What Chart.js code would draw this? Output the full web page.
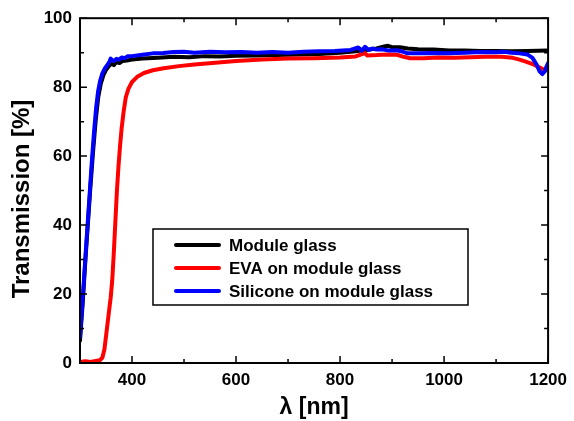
<!DOCTYPE html>
<html>
<head>
<meta charset="utf-8">
<script src="https://cdn.jsdelivr.net/npm/chart.js@4.4.0/dist/chart.umd.min.js"></script>
<style>
  html, body { margin: 0; padding: 0; background: #fff; }
  #wrap { width: 574px; height: 421px; }
</style>
</head>
<body>
<div id="wrap"><canvas id="chart" width="574" height="421"></canvas></div>
<script>
// transmission spectra, wavelength in nm, transmission in %
var seriesLabels = ['Module glass', 'EVA on module glass', 'Silicone on module glass'];
var seriesColors = ['#000000', '#ff0000', '#0000ff'];

var moduleGlassNm = [300, 305, 310, 315, 320, 325, 330, 335, 340, 345, 350, 355, 360, 365, 370, 376, 382, 390,
  400, 420, 450, 480, 510, 540, 570, 600, 640, 680, 720, 760, 800, 830, 850, 870, 885, 892, 900, 915, 930, 950,
  980, 1010, 1040, 1070, 1100, 1130, 1160, 1200];
var moduleGlassT = [6.5, 17, 29, 40, 51, 61, 70, 77, 81, 83.5, 85, 86, 86.8, 86.4, 87.3, 87.0, 87.6, 87.7,
  88.0, 88.3, 88.5, 88.8, 88.7, 89.0, 88.9, 89.1, 89.2, 89.3, 89.5, 89.6, 90.0, 90.4, 90.8, 91.2, 91.8, 92.0, 91.6, 91.6, 91.2, 91.0,
  90.9, 90.6, 90.6, 90.5, 90.5, 90.4, 90.5, 90.6];

var evaNm = [300, 310, 320, 330, 338, 343, 347, 351, 355, 359, 362, 365, 368, 371, 374, 377, 380, 384, 388, 393,
  400, 410, 423, 440, 461, 490, 520, 560, 600, 650, 700, 750, 800, 830, 848, 852, 870, 890, 910, 922, 935,
  960, 990, 1020, 1050, 1080, 1110, 1132, 1145, 1157, 1173, 1185, 1195, 1200];
var evaT = [0.3, 0.5, 0.3, 0.6, 0.8, 1.5, 4, 9, 14, 19, 24, 32, 41, 50, 57, 63, 68, 73, 77, 79.5,
  81.5, 83, 84.1, 84.9, 85.5, 86.1, 86.6, 87.1, 87.6, 88.0, 88.3, 88.4, 88.6, 88.9, 89.9, 89.2, 89.3, 89.5, 89.4, 88.8, 88.4,
  88.4, 88.6, 88.5, 88.7, 88.8, 88.8, 88.5, 88.0, 87.4, 86.5, 85.6, 84.8, 85.5];

var siliconeNm = [300, 302, 305, 308, 311, 315, 319, 323, 327, 331, 335, 339, 343, 348, 353, 357, 359, 362, 366,
  370, 375, 380, 386, 392, 400, 420, 440, 460, 480, 500, 520, 550, 580, 610, 640, 670, 700, 730, 760, 790, 820,
  835, 842, 848, 855, 862, 870, 880, 895, 910, 920, 930, 950, 980, 1010, 1040, 1060, 1080, 1100, 1115, 1130,
  1145, 1160, 1170, 1178, 1184, 1189, 1193, 1197, 1200];
var siliconeT = [7.5, 12, 18, 25, 32, 41, 50, 59, 67, 74, 79, 82, 84, 85.5, 86.5, 87.5, 88.3, 87.8, 87.6,
  88.2, 88.0, 88.6, 88.4, 89.0, 89.0, 89.4, 89.8, 89.9, 90.2, 90.3, 90.0, 90.3, 90.1, 90.2, 90.0, 90.2, 90.0, 90.3, 90.4, 90.5, 90.8,
  91.5, 90.6, 91.7, 90.8, 91.2, 90.9, 91.0, 90.6, 90.7, 90.3, 89.8, 89.8, 89.9, 89.8, 90.0, 90.1, 90.2, 90.1, 90.3, 90.0,
  89.8, 89.5, 88.5, 86.5, 84.5, 83.8, 84.5, 86, 87];

var xTicks = [400, 600, 800, 1000, 1200];
var yTicks = [0, 20, 40, 60, 80, 100];
var yTitle = 'Transmission [%]';

function toPoints(xs, ys) {
  return xs.map(function (x, i) { return { x: x, y: ys[i] }; });
}

var FONT = '"Liberation Sans", Arial, sans-serif';

// frame with inward major/minor ticks on all four sides
var framePlugin = {
  id: 'frame',
  afterDatasetsDraw: function (chart) {
    var ctx = chart.ctx, a = chart.chartArea;
    var xs = chart.scales.x, ys = chart.scales.y;
    ctx.save();
    ctx.strokeStyle = '#000';
    ctx.lineWidth = 2;
    ctx.strokeRect(a.left, a.top, a.right - a.left, a.bottom - a.top);
    ctx.lineWidth = 1.5;
    ctx.beginPath();
    xs.ticks.forEach(function (t) {
      var px = xs.getPixelForValue(t.value);
      var len = (t.value % 200 === 0) ? 7 : 4;
      ctx.moveTo(px, a.bottom); ctx.lineTo(px, a.bottom - len);
      ctx.moveTo(px, a.top); ctx.lineTo(px, a.top + len);
    });
    ys.ticks.forEach(function (t) {
      var py = ys.getPixelForValue(t.value);
      var len = (t.value % 20 === 0) ? 7 : 4;
      ctx.moveTo(a.left, py); ctx.lineTo(a.left + len, py);
      ctx.moveTo(a.right, py); ctx.lineTo(a.right - len, py);
    });
    ctx.stroke();

    // rotated y axis title, sitting a little below the axis middle
    ctx.translate(22, 199);
    ctx.rotate(-Math.PI / 2);
    ctx.font = 'bold 24px ' + FONT;
    ctx.fillStyle = '#000';
    ctx.textAlign = 'center';
    ctx.textBaseline = 'middle';
    ctx.fillText(yTitle, 0, 0);
    ctx.restore();
  }
};

// boxed legend inside the plot area
var legendPlugin = {
  id: 'boxLegend',
  afterDatasetsDraw: function (chart) {
    var ctx = chart.ctx;
    var box = { x: 153, y: 229, w: 315, h: 76 };
    ctx.save();
    ctx.fillStyle = '#fff';
    ctx.fillRect(box.x, box.y, box.w, box.h);
    ctx.strokeStyle = '#000';
    ctx.lineWidth = 1.5;
    ctx.strokeRect(box.x, box.y, box.w, box.h);
    ctx.font = 'bold 17px ' + FONT;
    ctx.textBaseline = 'middle';
    chart.data.datasets.forEach(function (ds, i) {
      var y = 245 + i * 23;
      ctx.strokeStyle = ds.borderColor;
      ctx.lineWidth = 4;
      ctx.lineCap = 'round';
      ctx.beginPath();
      ctx.moveTo(176, y); ctx.lineTo(219, y);
      ctx.stroke();
      ctx.fillStyle = '#000';
      ctx.fillText(ds.label, 229, y + 1);
    });
    ctx.restore();
  }
};

new Chart(document.getElementById('chart'), {
  type: 'line',
  data: {
    datasets: [
      { label: seriesLabels[0], data: toPoints(moduleGlassNm, moduleGlassT), borderColor: seriesColors[0], order: 2 },
      { label: seriesLabels[1], data: toPoints(evaNm, evaT), borderColor: seriesColors[1], order: 1 },
      { label: seriesLabels[2], data: toPoints(siliconeNm, siliconeT), borderColor: seriesColors[2], order: 0 }
    ]
  },
  options: {
    responsive: false,
    animation: false,
    layout: { padding: { top: 17, right: 21, left: 0, bottom: 0 } },
    elements: {
      point: { radius: 0 },
      line: { borderWidth: 4, tension: 0, borderJoinStyle: 'round', borderCapStyle: 'round', fill: false }
    },
    plugins: { legend: { display: false }, tooltip: { enabled: false } },
    scales: {
      x: {
        type: 'linear',
        min: 300, max: 1200,
        grid: { display: false, drawTicks: false },
        border: { display: false },
        ticks: {
          stepSize: 100,
          autoSkip: false,
          maxRotation: 0,
          padding: 7,
          color: '#000',
          font: { family: FONT, size: 17, weight: 'bold' },
          callback: function (v) { return xTicks.indexOf(v) >= 0 ? String(v) : ''; }
        },
        title: {
          display: true, text: 'λ [nm]', color: '#000',
          font: { family: FONT, size: 23, weight: 'bold' },
          padding: { top: 0, bottom: 0 }
        },
        afterFit: function (s) { s.height = 58; }
      },
      y: {
        min: 0, max: 100,
        grid: { display: false, drawTicks: false },
        border: { display: false },
        ticks: {
          stepSize: 10,
          autoSkip: false,
          padding: 8,
          color: '#000',
          font: { family: FONT, size: 17, weight: 'bold' },
          callback: function (v) { return yTicks.indexOf(v) >= 0 ? String(v) : ''; }
        },
        afterFit: function (s) { s.width = 80; }
      }
    }
  },
  plugins: [framePlugin, legendPlugin]
});
</script>
</body>
</html>
